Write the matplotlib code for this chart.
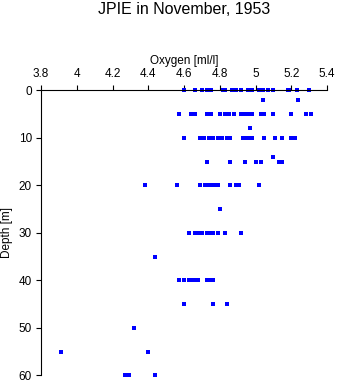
import matplotlib
matplotlib.use("Agg")
import matplotlib.pyplot as plt

plt.rcParams['font.family'] = ['Liberation Sans', 'DejaVu Sans']

title = "JPIE in November, 1953"
x_label = "Oxygen [ml/l]"
y_label = "Depth [m]"
x_ticks = [3.8, 4.0, 4.2, 4.4, 4.6, 4.8, 5.0, 5.2, 5.4]
x_tick_labels = ["3.8", "4", "4.2", "4.4", "4.6", "4.8", "5", "5.2", "5.4"]
y_ticks = [0, 10, 20, 30, 40, 50, 60]

oxy_0 = [4.60, 4.66, 4.70, 4.73, 4.75, 4.82, 4.83, 4.87, 4.89, 4.92, 4.96, 4.98,
         5.02, 5.04, 5.07, 5.10, 5.18, 5.19, 5.23, 5.30]
oxy_2 = [5.04, 5.24]
oxy_5 = [4.57, 4.64, 4.66, 4.73, 4.75, 4.80, 4.83, 4.85, 4.88, 4.92, 4.94, 4.95,
         4.97, 4.98, 5.03, 5.05, 5.10, 5.20, 5.28, 5.31]
oxy_8 = [4.97]
oxy_10 = [4.60, 4.69, 4.71, 4.74, 4.76, 4.79, 4.81, 4.84, 4.86, 4.93, 4.94, 4.96,
          4.98, 5.05, 5.11, 5.15, 5.20, 5.22]
oxy_14 = [5.10]
oxy_15 = [4.73, 4.86, 4.94, 5.00, 5.03, 5.13, 5.15]
oxy_20 = [4.38, 4.56, 4.69, 4.72, 4.74, 4.76, 4.77, 4.79, 4.86, 4.89, 4.91, 5.02]
oxy_25 = [4.80]
oxy_30 = [4.63, 4.66, 4.68, 4.70, 4.73, 4.75, 4.76, 4.79, 4.83, 4.92]
oxy_35 = [4.44]
oxy_40 = [4.57, 4.60, 4.63, 4.65, 4.66, 4.68, 4.73, 4.74, 4.76]
oxy_45 = [4.60, 4.76, 4.84]
oxy_50 = [4.32]
oxy_55 = [3.91, 4.40]
oxy_60 = [4.27, 4.29, 4.44]

depths = [0, 2, 5, 8, 10, 14, 15, 20, 25, 30, 35, 40, 45, 50, 55, 60]
oxygen_by_depth = [oxy_0, oxy_2, oxy_5, oxy_8, oxy_10, oxy_14, oxy_15, oxy_20,
                   oxy_25, oxy_30, oxy_35, oxy_40, oxy_45, oxy_50, oxy_55, oxy_60]

fig = plt.figure(figsize=(3.37, 3.84), dpi=100)
ax = fig.add_axes([41 / 337, 1 - 375.3 / 384, (327 - 41) / 337, (375.3 - 90.3) / 384])

for d, vals in zip(depths, oxygen_by_depth):
    ax.plot(vals, [d] * len(vals), linestyle='none', marker='s',
            markersize=2.4, color='#0000ff', markeredgewidth=0, clip_on=False)

ax.set_xlim(3.8, 5.4)
ax.set_ylim(60, 0)
ax.xaxis.tick_top()
ax.xaxis.set_label_position('top')
ax.set_xticks(x_ticks)
ax.set_xticklabels(x_tick_labels)
ax.set_yticks(y_ticks)
ax.tick_params(axis='both', direction='out', length=3.5, width=0.8,
               labelsize=8.5, pad=3)
ax.tick_params(axis='x', pad=4)
for s in ['right', 'bottom']:
    ax.spines[s].set_visible(False)
for s in ['top', 'left']:
    ax.spines[s].set_linewidth(0.8)

ax.set_xlabel(x_label, fontsize=8.5, labelpad=3)
ax.set_ylabel(y_label, fontsize=8.5, labelpad=4)
fig.text(184 / 337, 1 - 9.5 / 384, title, ha='center', va='center',
         fontsize=11.5)

fig.savefig("out.png", dpi=100)
